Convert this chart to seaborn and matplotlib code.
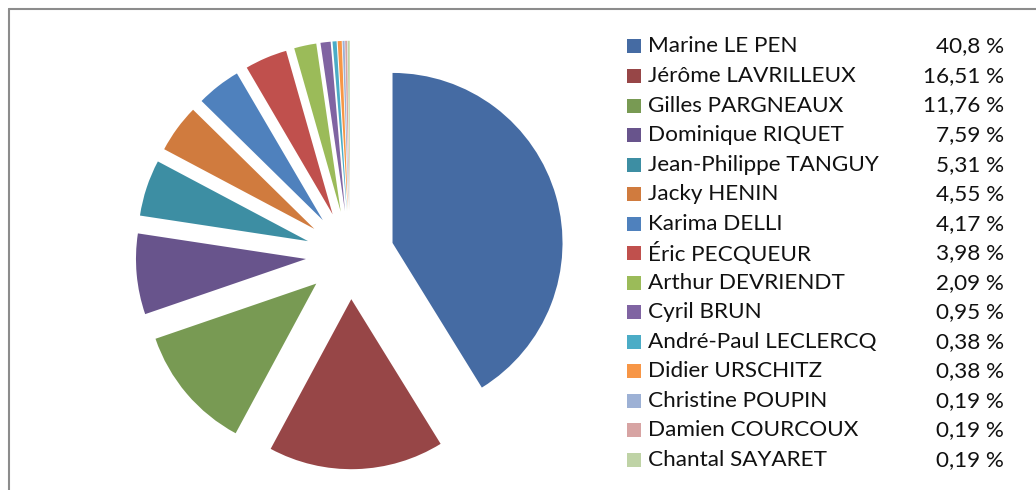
import matplotlib
matplotlib.use("Agg")
import matplotlib.pyplot as plt
import seaborn as sns
from matplotlib.patches import Rectangle
from matplotlib.lines import Line2D

# Données
candidats = ["Marine LE PEN", "Jérôme LAVRILLEUX", "Gilles PARGNEAUX",
             "Dominique RIQUET", "Jean-Philippe TANGUY", "Jacky HENIN",
             "Karima DELLI", "Éric PECQUEUR", "Arthur DEVRIENDT", "Cyril BRUN",
             "André-Paul LECLERCQ", "Didier URSCHITZ", "Christine POUPIN",
             "Damien COURCOUX", "Chantal SAYARET"]
scores = [40.8, 16.51, 11.76, 7.59, 5.31, 4.55, 4.17, 3.98, 2.09, 0.95,
          0.38, 0.38, 0.19, 0.19, 0.19]
etiquettes = ["40,8 %", "16,51 %", "11,76 %", "7,59 %", "5,31 %", "4,55 %",
              "4,17 %", "3,98 %", "2,09 %", "0,95 %", "0,38 %", "0,38 %",
              "0,19 %", "0,19 %", "0,19 %"]
couleurs = ["#456BA3", "#974647", "#789A53", "#68548C", "#3D8EA3", "#D07B3E",
            "#4F81BD", "#C0504D", "#9BBB59", "#8064A2", "#4BACC6", "#F79646",
            "#9DB1D5", "#D7A4A3", "#BFD3A6"]

# Style
sns.set_style("white")
plt.rcParams['font.family'] = ['Lato', 'DejaVu Sans']
palette = sns.color_palette(couleurs)

W, H = 1036, 490
fig = plt.figure(figsize=(W / 100, H / 100), dpi=100)

# Camembert éclaté
ax = fig.add_axes([129 / W, 14 / H, 442 / W, 442 / H])
ax.pie(scores, colors=palette, startangle=90, counterclock=False,
       explode=[0.26] * len(scores), radius=1,
       wedgeprops=dict(linewidth=0))
ax.set_xlim(-1.3, 1.3)
ax.set_ylim(-1.3, 1.3)
ax.set_aspect('equal')
ax.axis('off')

# Légende manuelle
y0, pas = 46.5, (460 - 46.5) / 14
for i, (nom, lab) in enumerate(zip(candidats, etiquettes)):
    yc = 1 - (y0 + i * pas) / H
    fig.add_artist(Rectangle((627 / W, yc - 7 / H), 14 / W, 14 / H,
                             transform=fig.transFigure, color=palette[i], lw=0))
    fig.text(648 / W, yc, nom, fontsize=16.2, va='center', ha='left', color='#111111')
    fig.text(1004 / W, yc, lab, fontsize=16.2, va='center', ha='right', color='#111111')

# Cadre
fig.add_artist(Line2D([8.5 / W, 8.5 / W], [0, 1 - 9 / H], color="#8c8c8c", lw=1.5,
                      transform=fig.transFigure))
fig.add_artist(Line2D([8.5 / W, 1], [1 - 9.5 / H, 1 - 9.5 / H], color="#8c8c8c", lw=1.5,
                      transform=fig.transFigure))

fig.savefig("out.png", dpi=100)
